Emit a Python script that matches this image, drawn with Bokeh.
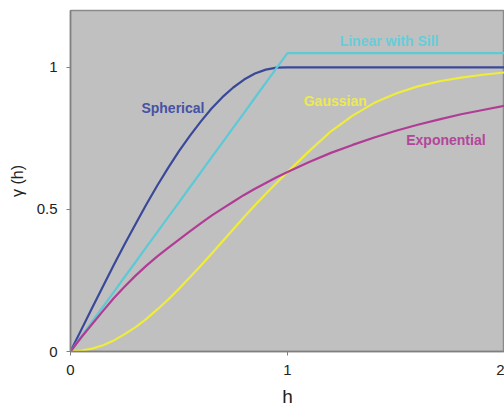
from bokeh.plotting import figure
from bokeh.models import Label, FixedTicker, Range1d
from bokeh.embed import file_html
from bokeh.resources import INLINE

h = [0, 0.05, 0.1, 0.15, 0.2, 0.25, 0.3, 0.35, 0.4, 0.45, 0.5, 0.55, 0.6, 0.65, 0.7,
     0.75, 0.8, 0.85, 0.9, 0.95, 1.0, 1.1, 1.2, 1.3, 1.4, 1.5, 1.6, 1.7, 1.8, 1.9, 2.0]
spherical = [0, 0.077, 0.154, 0.230, 0.305, 0.378, 0.449, 0.518, 0.584, 0.646, 0.705,
             0.759, 0.809, 0.855, 0.895, 0.929, 0.957, 0.978, 0.992, 0.999, 1.0,
             1.0, 1.0, 1.0, 1.0, 1.0, 1.0, 1.0, 1.0, 1.0, 1.0]
linear_sill = [0, 0.053, 0.105, 0.158, 0.210, 0.263, 0.315, 0.368, 0.420, 0.473, 0.525,
               0.578, 0.630, 0.683, 0.735, 0.788, 0.840, 0.893, 0.945, 0.998, 1.05,
               1.05, 1.05, 1.05, 1.05, 1.05, 1.05, 1.05, 1.05, 1.05, 1.05]
gaussian = [0, 0.003, 0.010, 0.022, 0.039, 0.061, 0.086, 0.115, 0.148, 0.183, 0.221,
            0.261, 0.302, 0.344, 0.387, 0.430, 0.473, 0.515, 0.555, 0.594, 0.632,
            0.705, 0.775, 0.830, 0.875, 0.908, 0.933, 0.951, 0.964, 0.974, 0.982]
exponential = [0, 0.050, 0.097, 0.143, 0.188, 0.229, 0.267, 0.302, 0.335, 0.365, 0.394,
               0.423, 0.451, 0.478, 0.503, 0.527, 0.551, 0.573, 0.593, 0.613, 0.632,
               0.667, 0.699, 0.727, 0.753, 0.777, 0.798, 0.817, 0.835, 0.850, 0.865]

x_ticks = [0, 1, 2]
x_tick_labels = ["0", "1", "2"]
y_ticks = [0, 0.5, 1]
y_tick_labels = ["0", "0.5", "1"]

series_names = ["Spherical", "Linear with Sill", "Gaussian", "Exponential"]

FONT = "Liberation Sans"

p = figure(frame_width=434, frame_height=341, output_backend="svg", toolbar_location=None,
           x_range=Range1d(0, 2), y_range=Range1d(0, 1.2),
           min_border_left=70, min_border_right=0, min_border_top=10, min_border_bottom=57)
p.background_fill_color = "#c0c0c0"
p.border_fill_color = "white"
p.outline_line_color = "#8a8a8a"
p.outline_line_width = 1.5
p.grid.visible = False

p.line(h, spherical, line_color="#3a4899", line_width=2.2)
p.line(h, linear_sill, line_color="#5ec9d6", line_width=2.2)
p.line(h, gaussian, line_color="#f0ec3a", line_width=2.2)
p.line(h, exponential, line_color="#b03c96", line_width=2.2)

for ax in (p.xaxis[0], p.yaxis[0]):
    ax.axis_line_color = "#808080"
    ax.axis_line_width = 1.5
    ax.major_tick_line_color = "#808080"
    ax.major_tick_out = 4
    ax.major_tick_in = 0
    ax.minor_tick_line_color = None
    ax.major_label_text_font = FONT
    ax.major_label_text_font_size = "15px"
    ax.major_label_text_color = "#222222"
    ax.axis_label_text_font = FONT
    ax.axis_label_text_font_style = "normal"
    ax.axis_label_text_color = "#222222"

p.xaxis.ticker = FixedTicker(ticks=x_ticks)
p.xaxis.major_label_overrides = dict(zip(x_ticks, x_tick_labels))
p.yaxis.ticker = FixedTicker(ticks=y_ticks)
p.yaxis.major_label_overrides = dict(zip(y_ticks, y_tick_labels))
p.xaxis.axis_label = "h"
p.xaxis.axis_label_text_font_size = "19px"
p.xaxis.major_label_standoff = 9
p.xaxis.axis_label_standoff = 8
p.yaxis.axis_label = "γ (h)"
p.yaxis.axis_label_text_font_size = "16px"
p.yaxis.major_label_standoff = 9
p.yaxis.axis_label_standoff = 8

label_pos = [(0.472, 0.856, "#4652a3"), (1.468, 1.092, "#66cdd9"),
             (1.22, 0.88, "#ecea50"), (1.73, 0.743, "#b4459c")]
for name, (lx, ly, col) in zip(series_names, label_pos):
    p.add_layout(Label(x=lx, y=ly, text=name, text_align="center", text_baseline="middle",
                       text_font=FONT, text_font_size="14px", text_font_style="bold",
                       text_color=col))

open("out.html", "w").write(file_html(p, INLINE))
